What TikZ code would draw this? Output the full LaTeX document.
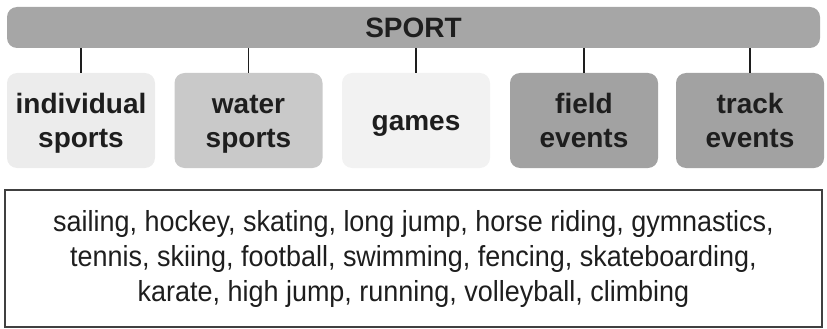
\documentclass[tikz,border=0pt]{standalone}
\usepackage{fontspec}
\setmainfont{Liberation Sans}
\newfontfamily\listfont[FakeStretch=0.93]{Liberation Sans}
\definecolor{barGray}{HTML}{A6A6A6}
\definecolor{darkGray}{HTML}{A2A2A2}
\definecolor{midGray}{HTML}{C9C9C9}
\definecolor{paleGray}{HTML}{ECECEC}
\definecolor{inkGray}{HTML}{1E1E1E}
\newcommand\catstrut{\rule[-7pt]{0pt}{33pt}}
\tikzset{
  catbox/.style={rounded corners=10pt, minimum width=148pt, minimum height=95pt,
    align=center, text=inkGray, font=\fontsize{28}{34}\selectfont\bfseries, inner sep=0pt},
  link/.style={line width=1.3pt, inkGray}
}
\begin{document}
\begin{tikzpicture}[x=1pt,y=-1pt]
\useasboundingbox (0,0) rectangle (827,329);
\node[fill=barGray, rounded corners=10pt, minimum width=813pt, minimum height=41pt,
  inner sep=0pt, text=inkGray, font=\fontsize{28}{34}\selectfont\bfseries]
  (sport) at (413.5,27.5) {SPORT};
\node[catbox, fill=paleGray] (indiv) at (81,120.5) {\catstrut individual\\\catstrut sports};
\node[catbox, fill=midGray] (water) at (248.5,120.5) {\catstrut water\\\catstrut sports};
\node[catbox, fill=paleGray!70!white] (games) at (416,120.5) {\catstrut games};
\node[catbox, fill=darkGray] (field) at (584,120.5) {\catstrut field\\\catstrut events};
\node[catbox, fill=darkGray] (track) at (750,120.5) {\catstrut track\\\catstrut events};
\draw[link] (indiv.north) -- (indiv.north |- sport.south);
\draw[link] (water.north) -- (water.north |- sport.south);
\draw[link] (games.north) -- (games.north |- sport.south);
\draw[link] (field.north) -- (field.north |- sport.south);
\draw[link] (track.north) -- (track.north |- sport.south);
\node[draw=inkGray!85, line width=1.5pt, fill=white, minimum width=817pt, minimum height=137pt,
  inner sep=0pt, align=center, text=inkGray, font=\listfont\fontsize{29}{35}\selectfont]
  (list) at (413.5,258.5)
  {sailing, hockey, skating, long jump, horse riding, gymnastics,\\
   tennis, skiing, football, swimming, fencing, skateboarding,\\
   karate, high jump, running, volleyball, climbing};
\end{tikzpicture}
\end{document}
